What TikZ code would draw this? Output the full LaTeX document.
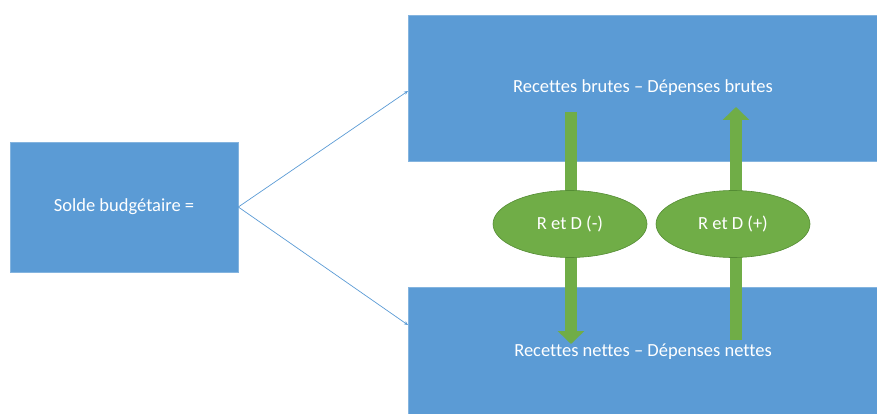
\documentclass[tikz,border=0pt]{standalone}
\usepackage{fontspec}
\setmainfont[Ligatures={TeX,NoCommon}]{Carlito}
\definecolor{boxblue}{RGB}{91,155,213}
\definecolor{leafgreen}{RGB}{112,173,71}
\definecolor{leafedge}{RGB}{84,140,52}
\usetikzlibrary{shapes.geometric, arrows.meta}
\tikzset{
    bluebox/.style={fill=boxblue, draw=boxblue!75!white, line width=.6pt,
        text=white, inner sep=0pt},
    greenoval/.style={ellipse, fill=leafgreen, draw=leafedge, line width=.6pt,
        text=white, minimum width=154pt, minimum height=67pt, inner sep=0pt},
    fatarrow/.style={draw=leafgreen, line width=12pt,
        -{Triangle[width=26pt, length=13pt]}},
    thinlink/.style={draw=boxblue, line width=.7pt,
        -{Stealth[length=4pt, width=3.5pt]}},
}

\begin{document}
\begin{tikzpicture}[x=1pt, y=-1pt, font=\fontsize{18.5}{22}\selectfont]
    \useasboundingbox (0,0) rectangle (877,414);
    \node[bluebox, minimum width=228pt, minimum height=130pt] (solde)
        at (124,207) {Solde budgétaire =};
    \node[bluebox, minimum width=470pt, minimum height=146pt] (brutes)
        at (643,88) {Recettes brutes – Dépenses brutes};
    \node[bluebox, minimum width=470pt, minimum height=130pt] (nettes)
        at (643,352) {Recettes nettes – Dépenses nettes};
    % fleches vertes, sous les ellipses
    \coordinate (moinsHaut) at (571,112);
    \coordinate (moinsBas) at (571,344);
    \coordinate (plusBas) at (736,340);
    \coordinate (plusHaut) at (736,107);
    \draw[fatarrow] (moinsHaut) -- (moinsBas);
    \draw[fatarrow] (plusBas) -- (plusHaut);
    \node[greenoval] (moins) at (570,224) {R et D (-)};
    \node[greenoval] (plus) at (733,224) {R et D (+)};
    \coordinate (versBrutes) at (408,91);
    \coordinate (versNettes) at (408,325);
    \draw[thinlink] (solde.east) -- (versBrutes);
    \draw[thinlink] (solde.east) -- (versNettes);
\end{tikzpicture}
\end{document}
